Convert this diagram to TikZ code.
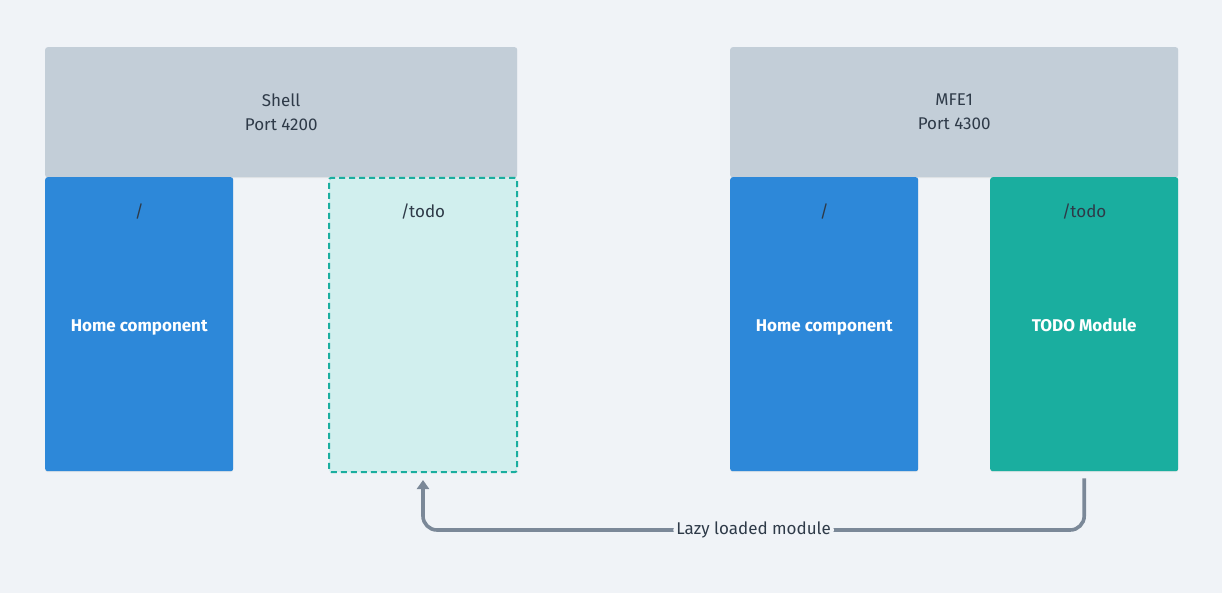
\documentclass[tikz,border=0pt]{standalone}
\usepackage{fontspec}
\setmainfont{Fira Sans}
\usetikzlibrary{arrows.meta,shadows}
\definecolor{bg}{HTML}{F0F3F7}
\definecolor{hostgray}{HTML}{C3CED8}
\definecolor{homeblue}{HTML}{2D88D9}
\definecolor{todoteal}{HTML}{1AAE9F}
\definecolor{lightteal}{HTML}{D1EFEE}
\definecolor{txt}{HTML}{2E3A48}
\definecolor{linegray}{HTML}{7B8898}
\tikzset{
  box/.style={rectangle, rounded corners=2.5pt, inner sep=0pt, anchor=north west, draw=none,
    drop shadow={shadow xshift=0pt, shadow yshift=-1pt, opacity=0.12}},
  hostbox/.style={box, fill=hostgray, minimum height=130pt},
  homebox/.style={box, fill=homeblue, minimum width=188pt, minimum height=294pt},
  modbox/.style={box, fill=todoteal, minimum width=188pt, minimum height=294pt},
  lazybox/.style={rectangle, rounded corners=2pt, inner sep=0pt, anchor=north west,
    fill=lightteal, draw=todoteal, line width=2pt, dash pattern=on 6pt off 4pt,
    minimum width=188pt, minimum height=294pt},
  hosttext/.style={text=txt, font=\fontsize{17}{24}\selectfont, align=center},
  routetext/.style={text=txt, font=\fontsize{17}{20}\selectfont, anchor=base},
  boldtext/.style={text=white, font=\fontsize{17}{20}\selectfont\bfseries, anchor=base},
  conn/.style={draw=linegray, line width=3.6pt, rounded corners=14pt,
    -{Triangle[width=12pt,length=9pt]}},
  connlabel/.style={fill=bg, text=txt, font=\fontsize{17}{20}\selectfont, inner sep=3pt}
}
\begin{document}
\begin{tikzpicture}[x=1pt,y=-1pt]
\fill[bg] (0,0) rectangle (1222,593);
\useasboundingbox (0,0) rectangle (1222,593);
% Shell
\node[hostbox, minimum width=472pt] (shell) at (45,47) {};
\node[hosttext] (shelltxt) at (shell.center) {Shell\\Port 4200};
\node[homebox] (home1) at (45,177) {};
\node[lazybox] (td) at (328,177) {};
% MFE1
\node[hostbox, minimum width=448pt] (mfe) at (730,47) {};
\node[hosttext] (mfetxt) at (mfe.center) {MFE1\\Port 4300};
\node[homebox] (home2) at (730,177) {};
\node[modbox] (mod) at (990,177) {};
% texts
\node[routetext] (r1) at ([yshift=-41pt]home1.north) {/};
\node[routetext] (r2) at ([yshift=-41pt]td.north) {/todo};
\node[routetext] (r3) at ([yshift=-41pt]home2.north) {/};
\node[routetext] (r4) at ([yshift=-41pt]mod.north) {/todo};
\node[boldtext] (h1) at ([yshift=-154pt]home1.north) {Home component};
\node[boldtext] (h2) at ([yshift=-154pt]home2.north) {Home component};
\node[boldtext] (m1) at ([yshift=-154pt]mod.north) {TODO Module};
% connector
\coordinate (a) at ([yshift=-7pt]mod.south);
\coordinate (c) at ([yshift=-7pt]td.south);
\coordinate (lvl) at (0,530);
\draw[conn] (a) |- (c |- lvl) node[pos=0.75, connlabel] {Lazy loaded module} -- (c);
\end{tikzpicture}
\end{document}
